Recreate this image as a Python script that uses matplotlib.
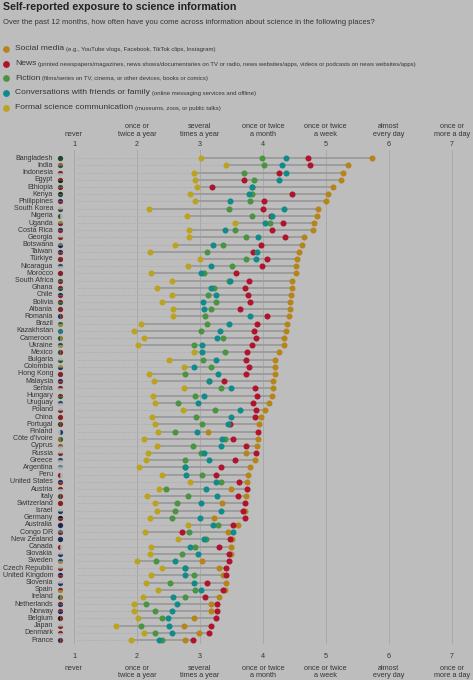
import numpy as np
import matplotlib
matplotlib.use('Agg')
import matplotlib.pyplot as plt

plt.rcParams['font.family'] = ['Liberation Sans', 'DejaVu Sans']

# 数据
countries = ['Bangladesh', 'India', 'Indonesia', 'Egypt', 'Ethiopia', 'Kenya', 'Philippines',
             'South Korea', 'Nigeria', 'Uganda', 'Costa Rica', 'Georgia', 'Botswana', 'Taiwan',
             'Türkiye', 'Nicaragua', 'Morocco', 'South Africa', 'Ghana', 'Chile', 'Bolivia',
             'Albania', 'Romania', 'Brazil', 'Kazakhstan', 'Cameroon', 'Ukraine', 'Mexico',
             'Bulgaria', 'Colombia', 'Hong Kong', 'Malaysia', 'Serbia', 'Hungary', 'Uruguay',
             'Poland', 'China', 'Portugal', 'Finland', "Côte d'Ivoire", 'Cyprus', 'Russia',
             'Greece', 'Argentina', 'Peru', 'United States', 'Austria', 'Italy', 'Switzerland',
             'Israel', 'Germany', 'Australia', 'Congo DR', 'New Zealand', 'Canada', 'Slovakia',
             'Sweden', 'Czech Republic', 'United Kingdom', 'Slovenia', 'Spain', 'Ireland',
             'Netherlands', 'Norway', 'Belgium', 'Japan', 'Denmark', 'France']

social = [5.73, 5.36, 5.28, 5.24, 5.12, 5.03, 5.00, 4.87, 4.86, 4.81, 4.79, 4.65, 4.62, 4.58, 4.54, 4.52, 4.52,
          4.47, 4.47, 4.44, 4.43, 4.43, 4.41, 4.38, 4.36, 4.34, 4.33, 4.25, 4.20, 4.20, 4.19, 4.16, 4.16, 4.15, 4.09,
          4.03, 3.97, 3.94, 3.13, 3.93, 3.91, 3.73, 3.88, 3.80, 3.77, 3.75, 3.50, 3.74, 3.35, 3.71, 3.23, 3.61,
          3.45, 3.51, 3.49, 3.49, 3.04, 3.30, 3.36, 3.41, 3.40, 3.31, 3.17, 3.17, 2.91, 2.74, 2.98, 2.77]
news = [4.71, 4.75, 4.25, 3.70, 3.20, 4.47, 4.02, 4.01, 4.13, 4.32, 4.14, 4.35, 3.97, 3.85, 4.06, 3.98, 3.58,
        3.78, 3.71, 3.77, 3.79, 3.63, 4.06, 3.91, 3.86, 3.89, 3.82, 3.75, 3.74, 3.78, 3.73, 3.38, 3.88, 3.91, 3.84,
        3.89, 3.88, 3.48, 3.93, 3.53, 3.73, 3.89, 3.55, 3.33, 3.25, 3.62, 3.75, 3.61, 3.72, 3.68, 3.71, 3.53,
        2.72, 3.48, 3.30, 3.47, 3.47, 3.41, 3.41, 3.12, 3.36, 3.08, 3.27, 3.27, 3.26, 3.18, 3.15, 2.89]
fiction = [3.98, 4.02, 3.70, 3.86, 3.82, 3.83, 3.79, 3.46, 3.83, 4.12, 3.55, 3.74, 3.37, 3.12, 3.74, 3.51, 3.06,
           3.46, 3.23, 3.13, 3.25, 3.18, 3.08, 3.11, 3.02, 3.37, 2.91, 3.40, 3.05, 3.18, 2.76, 3.14, 3.33, 2.92, 2.66,
           3.24, 2.94, 3.04, 2.60, 3.40, 2.89, 3.01, 2.76, 2.77, 3.04, 3.33, 2.46, 2.81, 2.63, 2.61, 2.55, 3.28,
           2.83, 3.09, 2.93, 2.72, 2.30, 2.76, 2.90, 2.53, 2.92, 2.77, 2.15, 2.29, 2.40, 2.06, 2.28, 2.40]
conversations = [4.36, 4.31, 4.37, 4.25, 3.82, 3.78, 3.48, 4.34, 4.14, 4.03, 3.40, 3.93, 3.21, 3.91, 3.89, 3.17, 3.02,
                 3.48, 3.18, 3.25, 3.05, 3.06, 3.79, 3.47, 3.32, 3.27, 3.03, 3.03, 3.25, 2.91, 3.28, 3.15, 3.49, 3.07, 2.97,
                 3.63, 3.49, 3.45, 2.95, 3.35, 3.33, 3.07, 3.14, 2.77, 2.78, 3.26, 3.09, 3.27, 3.01, 3.34, 3.00, 3.21,
                 3.52, 3.07, 2.84, 2.97, 2.60, 2.76, 2.76, 2.90, 3.01, 2.57, 2.64, 2.56, 2.50, 2.51, 2.56, 2.35]
formal = [3.01, 3.41, 2.91, 2.93, 2.95, 2.85, 2.92, 2.19, 2.79, 3.55, 2.82, 2.83, 2.60, 2.20, 3.00, 2.81, 2.22,
          2.55, 2.32, 2.56, 2.40, 2.57, 2.57, 2.06, 1.95, 2.11, 2.01, 2.91, 2.51, 2.74, 2.19, 2.27, 2.75, 2.26, 2.28,
          2.73, 2.24, 2.29, 2.33, 2.11, 2.32, 2.18, 2.15, 2.04, 2.40, 2.84, 2.35, 2.16, 2.29, 2.32, 2.21, 2.81,
          2.12, 2.65, 2.22, 2.21, 2.00, 2.39, 2.22, 2.14, 2.33, 2.10, 1.96, 1.96, 2.01, 1.67, 2.11, 1.91]

scale_ticks = [1, 2, 3, 4, 5, 6, 7]
scale_labels = ['never', 'once or\ntwice a year', 'several\ntimes a year', 'once or twice\na month',
                'once or twice\na week', 'almost\nevery day', 'once or\nmore a day']

legend_names = ['Social media', 'News', 'Fiction', 'Conversations with friends or family',
                'Formal science communication']
legend_notes = ['(e.g., YouTube vlogs, Facebook, TikTok clips, Instagram)',
                '(printed newspapers/magazines, news shows/documentaries on TV or radio, news websites/apps, videos or podcasts on news websites/apps)',
                '(films/series on TV, cinema, or other devices, books or comics)',
                '(online messaging services and offline)',
                '(museums, zoos, or public talks)']

# 国旗（简化为两色圆点）
flags = {
    'Bangladesh': ('#1d6a3a', '#a82a2a', 'full'), 'India': ('#d98a30', '#2a7a3a', 'top'),
    'Indonesia': ('#c8202a', '#eeeeee', 'top'), 'Egypt': ('#c8202a', '#222222', 'top'),
    'Ethiopia': ('#2a8a3a', '#c8202a', 'top'), 'Kenya': ('#333333', '#2a7a3a', 'top'),
    'Philippines': ('#2040a0', '#c8202a', 'top'), 'South Korea': ('#e6e6e6', '#555555', 'top'),
    'Nigeria': ('#2a8a3a', '#eeeeee', 'left'), 'Uganda': ('#e0c020', '#c8202a', 'top'),
    'Costa Rica': ('#2040a0', '#c8202a', 'top'), 'Georgia': ('#eeeeee', '#d02020', 'top'),
    'Botswana': ('#6aa8d8', '#333333', 'top'), 'Taiwan': ('#2040a0', '#c8202a', 'top'),
    'Türkiye': ('#d02020', '#d02020', 'full'), 'Nicaragua': ('#2a60b0', '#eeeeee', 'top'),
    'Morocco': ('#c8202a', '#c8202a', 'full'), 'South Africa': ('#2a8a3a', '#c8202a', 'top'),
    'Ghana': ('#c8202a', '#2a7a3a', 'top'), 'Chile': ('#2040a0', '#d02020', 'top'),
    'Bolivia': ('#d02020', '#2a8a3a', 'top'), 'Albania': ('#d02020', '#d02020', 'full'),
    'Romania': ('#2040a0', '#d02020', 'left'), 'Brazil': ('#2a9a3a', '#e0c020', 'top'),
    'Kazakhstan': ('#20a8c0', '#20a8c0', 'full'), 'Cameroon': ('#2a8a3a', '#e0b020', 'left'),
    'Ukraine': ('#2060c0', '#f0d020', 'top'), 'Mexico': ('#2a8a3a', '#d02020', 'left'),
    'Bulgaria': ('#eeeeee', '#2a8a3a', 'top'), 'Colombia': ('#f0d020', '#2040a0', 'top'),
    'Hong Kong': ('#d02020', '#d02020', 'full'), 'Malaysia': ('#2040a0', '#d02020', 'top'),
    'Serbia': ('#c8202a', '#eeeeee', 'top'), 'Hungary': ('#d02020', '#2a8a3a', 'top'),
    'Uruguay': ('#2a60b0', '#eeeeee', 'top'), 'Poland': ('#eeeeee', '#d02020', 'top'),
    'China': ('#d02020', '#d02020', 'full'), 'Portugal': ('#2a7a3a', '#d02020', 'left'),
    'Finland': ('#eeeeee', '#2040a0', 'left'), "Côte d'Ivoire": ('#f08020', '#2a9a3a', 'left'),
    'Cyprus': ('#eeeeee', '#d08030', 'bottom'), 'Russia': ('#eeeeee', '#d02020', 'top'),
    'Greece': ('#2a60b0', '#eeeeee', 'top'), 'Argentina': ('#70a8d8', '#eeeeee', 'top'),
    'Peru': ('#d02020', '#eeeeee', 'left'), 'United States': ('#2040a0', '#d02020', 'top'),
    'Austria': ('#d02020', '#eeeeee', 'top'), 'Italy': ('#2a8a3a', '#d02020', 'left'),
    'Switzerland': ('#d02020', '#d02020', 'full'), 'Israel': ('#eeeeee', '#2040a0', 'top'),
    'Germany': ('#222222', '#d02020', 'top'), 'Australia': ('#203080', '#203080', 'full'),
    'Congo DR': ('#40a0e0', '#d02020', 'top'), 'New Zealand': ('#203080', '#203080', 'full'),
    'Canada': ('#d02020', '#eeeeee', 'left'), 'Slovakia': ('#eeeeee', '#2040a0', 'top'),
    'Sweden': ('#2060b0', '#f0c020', 'top'), 'Czech Republic': ('#eeeeee', '#d02020', 'top'),
    'United Kingdom': ('#203080', '#d02020', 'top'), 'Slovenia': ('#eeeeee', '#2040a0', 'top'),
    'Spain': ('#d02020', '#f0c020', 'top'), 'Ireland': ('#2a9a3a', '#f08020', 'left'),
    'Netherlands': ('#d02020', '#2040a0', 'top'), 'Norway': ('#d02020', '#203080', 'top'),
    'Belgium': ('#222222', '#d02020', 'left'), 'Japan': ('#eeeeee', '#d02020', 'top'),
    'Denmark': ('#d02020', '#eeeeee', 'top'), 'France': ('#2040a0', '#d02020', 'left'),
}

bg = '#bdbdbd'
text_col = '#353535'
grid_col = '#a9a9a9'
c_social = '#b5851c'
c_news = '#b0142c'
c_fiction = '#4a9341'
c_conv = '#118a8a'
c_formal = '#bba320'
series_colors = [c_social, c_news, c_fiction, c_conv, c_formal]


def dim(hexcol, f=0.74):
    r, g, b = matplotlib.colors.to_rgb(hexcol)
    grey = (r + g + b) / 3
    return tuple(f * (0.75 * v + 0.25 * grey) for v in (r, g, b))


W, H = 473, 680
fig = plt.figure(figsize=(W / 100, H / 100), dpi=100, facecolor=bg)
ax = fig.add_axes([0, 0, 1, 1])
ax.set_facecolor(bg)
ax.axis('off')

# 坐标：x 为量表值，y 为国家行号
px_per_unit = 62.95
x0_px = 74.0
ax.set_xlim(1 - x0_px / px_per_unit, 1 + (W - x0_px) / px_per_unit)
row0, row_h = 158.3, 7.19
ax.set_ylim((H - row0) / row_h, -row0 / row_h)


def fy(py):
    return 1 - py / H


def vx(px):
    return 1 + (px - x0_px) / px_per_unit


def ry(py):
    return (py - row0) / row_h


n = len(countries)
rows = np.arange(n)

for t in scale_ticks:
    ax.plot([t, t], [-1.1, n - 0.6], color=grid_col, lw=0.7, zorder=1)

vals = np.array([social, news, fiction, conversations, formal])
lo = vals.min(axis=0)
hi = vals.max(axis=0)
for i in rows:
    ax.plot([1.04, lo[i]], [i, i], color='#a2a2a2', lw=0.5, ls=(0, (1, 1.6)), zorder=2)
    ax.plot([lo[i], hi[i]], [i, i], color='#9a9a9a', lw=1.3, zorder=2, solid_capstyle='butt')

# 绘制顺序：新闻、社交媒体、虚构、对话、正式
for k in [1, 0, 2, 3, 4]:
    ax.scatter(vals[k], rows, s=19, color=series_colors[k], lw=0, zorder=3 + k)

for i, c in enumerate(countries):
    ax.text(vx(53), i, c, ha='right', va='center', fontsize=5.1, color=text_col)
    fc, alt, fs = flags[c]
    ax.plot(vx(60), i, marker='o', ms=3.8, fillstyle=fs, markerfacecolor=dim(fc),
            markerfacecoloralt=dim(alt), markeredgewidth=0, ls='none', zorder=3)

# 刻度标签
for t, lab in zip(scale_ticks, scale_labels):
    ax.text(t, ry(137.5), lab, ha='center', va='bottom', fontsize=5.2,
            color=text_col, linespacing=1.0)
    ax.text(t, ry(144.5), str(t), ha='center', va='center', fontsize=5.2, color=text_col)
    ax.text(t, ry(656.5), str(t), ha='center', va='center', fontsize=5.2, color=text_col)
    ax.text(t, ry(665.5), lab, ha='center', va='top', fontsize=5.2,
            color=text_col, linespacing=1.0)

# 标题
fig.text(3 / W, fy(7.5), 'Self-reported exposure to science information', fontsize=7.7,
         fontweight='bold', color='#222222', va='center', ha='left')
fig.text(3 / W, fy(22), 'Over the past 12 months, how often have you come across information about science in the following places?',
         fontsize=5.5, color=text_col, va='center', ha='left')

# 图例
fig.canvas.draw()
renderer = fig.canvas.get_renderer()
leg_y = [49, 63.7, 78.5, 93, 107.7]
for name, note, col, py in zip(legend_names, legend_notes, series_colors, leg_y):
    ax.scatter([vx(6.2)], [ry(py)], s=24, color=col, lw=0, zorder=5)
    t = fig.text(15 / W, fy(py), name, fontsize=6.1, color=text_col, va='center', ha='left')
    bb = t.get_window_extent(renderer)
    fig.text((bb.x1 + 2) / W, fy(py + 0.4), note, fontsize=4.3, color=text_col, va='center', ha='left')

fig.savefig('out.png', dpi=100, facecolor=bg)
